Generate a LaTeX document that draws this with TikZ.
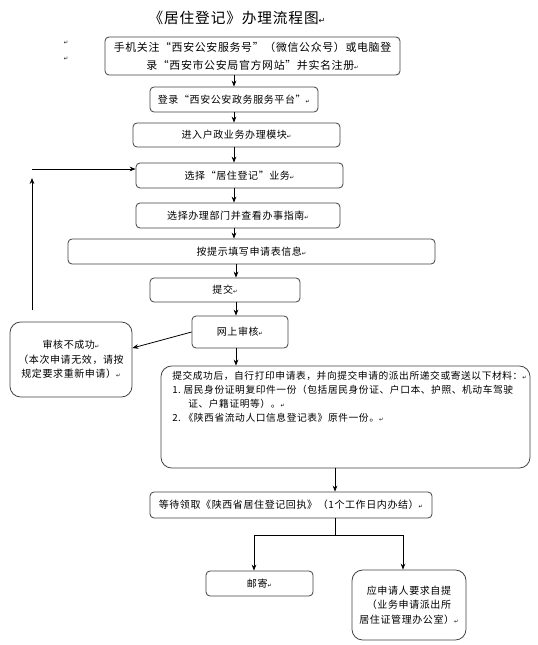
\documentclass[tikz,border=0pt]{standalone}
\usepackage{fontspec}
\setmainfont{Noto Sans CJK SC}[LetterSpace=6]
\newfontfamily\symfont{DejaVu Sans}
\usetikzlibrary{arrows.meta,positioning,calc}
\newcommand{\retmark}{{\symfont\fontsize{4pt}{4pt}\selectfont ↵}}
\newcommand{\boxfont}{\fontsize{7.5pt}{11pt}\selectfont}

\begin{document}
\begin{tikzpicture}[x=0.75pt,y=-0.75pt,
    stepbox/.style={rectangle,draw=black!75,line width=0.6pt,rounded corners=3pt,align=center,inner sep=0pt,font=\boxfont},
    roundbox/.style={stepbox,rounded corners=8pt},
    arrow/.style={-{Stealth[length=4.5pt,width=3.5pt]},line width=0.6pt}
]
    \useasboundingbox (0,0) rectangle (537,645);

    % Title
    \node[font=\fontsize{11pt}{13pt}\selectfont] (title) at (237,18) {《居住登记》办理流程图{\symfont\fontsize{6pt}{6pt}\selectfont ↵}};
    \node (mk1) at (66,43) {\retmark};
    \node (mk2) at (66,59) {\retmark};

    % Flow steps
    \node[stepbox,minimum width=221.25pt,minimum height=28.5pt,font=\fontsize{8.2pt}{13.5pt}\selectfont] (b1) at (252.5,56) {手机关注“西安公安服务号”（微信公众号）或电脑登\\录“西安市公安局官方网站”并实名注册\retmark};
    \node[stepbox,minimum width=126pt,minimum height=18.75pt] (b2) at (234,99.5) {登录“西安公安政务服务平台”\retmark};
    \node[stepbox,minimum width=155.25pt,minimum height=18pt] (b3) at (236.5,135) {进入户政业务办理模块\retmark};
    \node[stepbox,minimum width=155.25pt,minimum height=18.75pt] (b4) at (239.5,175.5) {选择“居住登记”业务\retmark};
    \node[stepbox,minimum width=153pt,minimum height=18.75pt] (b5) at (238,215.5) {选择办理部门并查看办事指南\retmark};
    \node[stepbox,minimum width=275.25pt,minimum height=18.75pt] (b6) at (251.5,251.5) {按提示填写申请表信息\retmark};
    \node[stepbox,minimum width=112.5pt,minimum height=18pt] (b7) at (225,290) {提交\retmark};
    \node[stepbox,minimum width=72pt,minimum height=24pt] (b8) at (240,332) {网上审核\retmark};
    \node[roundbox,minimum width=91.5pt,minimum height=56.25pt] (b9) at (71,359.5) {审核不成功\retmark\\（本次申请无效，请按\\规定要求重新申请）\retmark};
    \node[roundbox,minimum width=276.75pt,minimum height=76.5pt] (b10) at (345.5,417) {};
    \node[anchor=north west,align=left,inner sep=0pt,font=\fontsize{7.3pt}{10.5pt}\selectfont] (b10txt) at (172,370.5) {提交成功后，自行打印申请表，并向提交申请的派出所递交或寄送以下材料：\retmark\\\makebox[8.5pt][l]{1.}居民身份证明复印件一份（包括居民身份证、户口本、护照、机动车驾驶\\\hspace*{12pt}证、户籍证明等）。\retmark\\\makebox[8.5pt][l]{2.}《陕西省流动人口信息登记表》原件一份。\retmark};
    \node[stepbox,minimum width=211.5pt,minimum height=19.5pt] (b11) at (291,505) {等待领取《陕西省居住登记回执》（1个工作日内办结）\retmark};
    \node[stepbox,minimum width=80.25pt,minimum height=18.75pt] (b12) at (259.5,583.5) {邮寄\retmark};
    \node[roundbox,minimum width=85.5pt,minimum height=52.5pt] (b13) at (409,605) {应申请人要求自提\\（业务申请派出所\\居住证管理办公室）\retmark};

    % Main column
    \coordinate (spine) at (234,0);
    \coordinate (spinelow) at (236,0);
    \foreach \i/\j in {1/2,2/3,3/4,4/5,5/6} {
        \draw[arrow] (b\i.south -| spine) -- (b\j.north -| spine);
    }
    \foreach \i/\j in {6/7,7/8,8/10} {
        \draw[arrow] (b\i.south -| spinelow) -- (b\j.north -| spinelow);
    }

    % Failed review and retry
    \draw[arrow] (b8.west) -- ([yshift=8.6pt]b9.east);
    \coordinate (fbbot) at (32,310);
    \coordinate (fbtop) at (32,169);
    \draw[arrow] (fbbot) -- ([yshift=-6.75pt]fbtop);
    \draw[arrow] (fbtop) -- (fbtop -| b4.west);

    % Collection
    \coordinate (fork) at (335,535);
    \coordinate (forkl) at (254,535);
    \coordinate (forkr) at (403,535);
    \draw[arrow] (b10.south -| fork) -- (b11.north -| fork);
    \draw (b11.south -| fork) -- (fork);
    \draw[arrow] (fork) -- (forkl) -- (forkl |- b12.north);
    \draw[arrow] (fork) -- (forkr) -- (forkr |- b13.north);
\end{tikzpicture}
\end{document}
